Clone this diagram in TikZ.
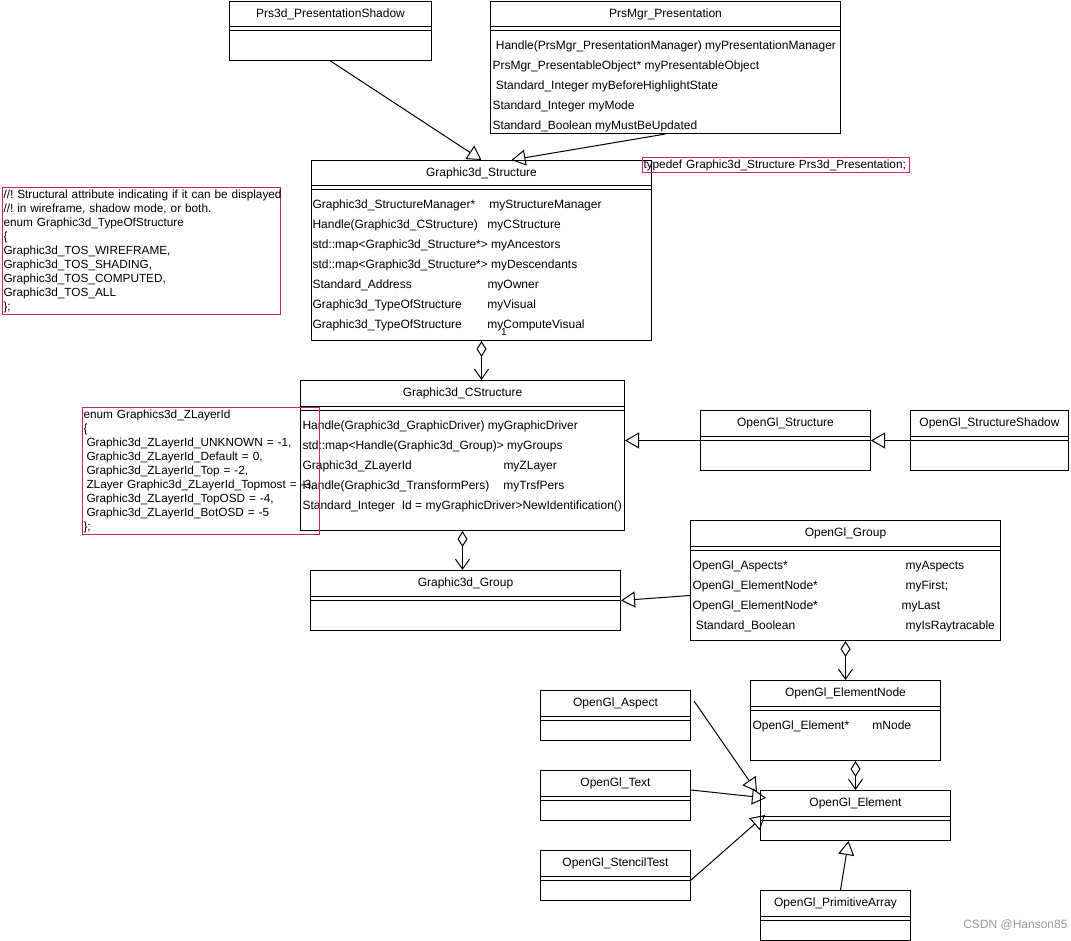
\documentclass[tikz,border=0pt]{standalone}
\usepackage{fontspec}
\setmainfont{Liberation Sans}
\usetikzlibrary{arrows.meta}
\definecolor{notepink}{RGB}{196,32,120}

\begin{document}
\frenchspacing
\begin{tikzpicture}[x=1pt, y=-1pt, line width=1pt, font=\fontsize{12}{14}\selectfont]
    % Define styles
    \tikzstyle{umlclass} = [rectangle, draw, anchor=north west, inner sep=0pt]
    \tikzstyle{classtitle} = [inner sep=0pt]
    \tikzstyle{classbody} = [anchor=north west, inner sep=0pt, font=\fontsize{12}{20}\selectfont]
    \tikzstyle{note} = [rectangle, draw=notepink, anchor=north west, inner xsep=1pt, inner ysep=2pt, align=left, font=\fontsize{11.8}{14}\selectfont]
    \tikzstyle{inherit} = [-{Triangle[open,length=14pt,width=16pt]}]
    \tikzstyle{aggr} = [{Diamond[open,length=16pt,width=10pt]}-{Straight Barb[length=10pt,width=14pt]}]

    \useasboundingbox (0,0) rectangle (1071,941);

    % Classes
    \node[umlclass, minimum width=202pt, minimum height=59pt] (ps) at (229,1) {};
    \node[umlclass, minimum width=350pt, minimum height=132pt] (pm) at (490,1) {};
    \node[umlclass, minimum width=340pt, minimum height=180pt] (gs) at (311,160) {};
    \node[umlclass, minimum width=324pt, minimum height=150pt] (gcs) at (300,380) {};
    \node[umlclass, minimum width=170pt, minimum height=60pt] (ogs) at (700,410) {};
    \node[umlclass, minimum width=158pt, minimum height=60pt] (ogss) at (910,410) {};
    \node[umlclass, minimum width=310pt, minimum height=60pt] (gg) at (310,570) {};
    \node[umlclass, minimum width=310pt, minimum height=120pt] (ogg) at (690,520) {};
    \node[umlclass, minimum width=190pt, minimum height=80pt] (oen) at (750,680) {};
    \node[umlclass, minimum width=150pt, minimum height=50pt] (oa) at (540,690) {};
    \node[umlclass, minimum width=150pt, minimum height=50pt] (ot) at (540,770) {};
    \node[umlclass, minimum width=150pt, minimum height=50pt] (ost) at (540,850) {};
    \node[umlclass, minimum width=190pt, minimum height=50pt] (oe) at (760,790) {};
    \node[umlclass, minimum width=150pt, minimum height=50pt] (opa) at (760,890) {};

    \foreach \c in {ps,pm,gs,gcs,ogs,ogss,gg,ogg,oen,oa,ot,ost,oe,opa}
        \draw ([yshift=-26pt]\c.north west) -- ([yshift=-26pt]\c.north east)
              ([yshift=-30pt]\c.north west) -- ([yshift=-30pt]\c.north east);

    % Titles
    \node[classtitle] (ps-t) at ([yshift=-13.5pt]ps.north) {Prs3d\_PresentationShadow};
    \node[classtitle] (pm-t) at ([yshift=-13.5pt]pm.north) {PrsMgr\_Presentation};
    \node[classtitle] (gs-t) at ([yshift=-13.5pt]gs.north) {Graphic3d\_Structure};
    \node[classtitle] (gcs-t) at ([yshift=-13.5pt]gcs.north) {Graphic3d\_CStructure};
    \node[classtitle] (ogs-t) at ([yshift=-13.5pt]ogs.north) {OpenGl\_Structure};
    \node[classtitle] (ogss-t) at ([yshift=-13.5pt]ogss.north) {OpenGl\_StructureShadow};
    \node[classtitle] (gg-t) at ([yshift=-13.5pt]gg.north) {Graphic3d\_Group};
    \node[classtitle] (ogg-t) at ([yshift=-13.5pt]ogg.north) {OpenGl\_Group};
    \node[classtitle] (oen-t) at ([yshift=-13.5pt]oen.north) {OpenGl\_ElementNode};
    \node[classtitle] (oa-t) at ([yshift=-13.5pt]oa.north) {OpenGl\_Aspect};
    \node[classtitle] (ot-t) at ([yshift=-13.5pt]ot.north) {OpenGl\_Text};
    \node[classtitle] (ost-t) at ([yshift=-13.5pt]ost.north) {OpenGl\_StencilTest};
    \node[classtitle] (oe-t) at ([yshift=-13.5pt]oe.north) {OpenGl\_Element};
    \node[classtitle] (opa-t) at ([yshift=-13.5pt]opa.north) {OpenGl\_PrimitiveArray};

    % Attributes
    \node[classbody] (pm-b) at ([xshift=2pt,yshift=-34.5pt]pm.north west) {\begin{tabular}{@{}l@{}}
        \ Handle(PrsMgr\_PresentationManager) myPresentationManager\\
        PrsMgr\_PresentableObject* myPresentableObject\\
        \ Standard\_Integer myBeforeHighlightState\\
        Standard\_Integer myMode\\
        Standard\_Boolean myMustBeUpdated
    \end{tabular}};
    \node[classbody] (gs-b) at ([xshift=1pt,yshift=-34.5pt]gs.north west) {\begin{tabular}{@{}l@{}}
        \makebox[177pt][l]{Graphic3d\_StructureManager*}myStructureManager\\
        \makebox[175pt][l]{Handle(Graphic3d\_CStructure)}myCStructure\\
        std::map<Graphic3d\_Structure*> myAncestors\\
        std::map<Graphic3d\_Structure*> myDescendants\\
        \makebox[175pt][l]{Standard\_Address}myOwner\\
        \makebox[175pt][l]{Graphic3d\_TypeOfStructure}myVisual\\
        \makebox[175pt][l]{Graphic3d\_TypeOfStructure}myComputeVisual
    \end{tabular}};
    \node[inner sep=0pt, font=\fontsize{10}{12}\selectfont] (gs-mult) at (504,332) {1};
    \node[classbody] (gcs-b) at ([xshift=2pt,yshift=-34.5pt]gcs.north west) {\begin{tabular}{@{}l@{}}
        Handle(Graphic3d\_GraphicDriver) myGraphicDriver\\
        std::map<Handle(Graphic3d\_Group)> myGroups\\
        \makebox[201pt][l]{Graphic3d\_ZLayerId}myZLayer\\
        \makebox[201pt][l]{Handle(Graphic3d\_TransformPers)}myTrsfPers\\
        Standard\_Integer\ \ Id = myGraphicDriver>NewIdentification()
    \end{tabular}};
    \node[classbody] (ogg-b) at ([xshift=2pt,yshift=-34.5pt]ogg.north west) {\begin{tabular}{@{}l@{}}
        \makebox[213pt][l]{OpenGl\_Aspects*}myAspects\\
        \makebox[213pt][l]{OpenGl\_ElementNode*}myFirst;\\
        \makebox[209pt][l]{OpenGl\_ElementNode*}myLast\\
        \makebox[213pt][l]{\ Standard\_Boolean}myIsRaytracable
    \end{tabular}};
    \node[classbody] (oen-b) at ([xshift=2pt,yshift=-34.5pt]oen.north west) {\begin{tabular}{@{}l@{}}
        \makebox[120pt][l]{OpenGl\_Element*}mNode
    \end{tabular}};

    % Notes
    \node[note, text width=265pt, inner ysep=0pt, minimum height=15pt] (typedef-note) at (642,157)
        {\mbox{typedef Graphic3d\_Structure Prs3d\_Presentation;}};
    \node[note, text width=276pt, minimum height=127pt] (tos-note) at (2,187)
        {\mbox{//! Structural attribute indicating if it can be displayed}\\
         //! in wireframe, shadow mode, or both.\\
         enum Graphic3d\_TypeOfStructure\\
         \{\\
         Graphic3d\_TOS\_WIREFRAME,\\
         Graphic3d\_TOS\_SHADING,\\
         Graphic3d\_TOS\_COMPUTED,\\
         Graphic3d\_TOS\_ALL\\
         \};};
    \node[note, text width=235pt, minimum height=127pt] (zlayer-note) at (82,407)
        {enum Graphics3d\_ZLayerId\\
         \{\\
         \hspace*{3pt}Graphic3d\_ZLayerId\_UNKNOWN = -1,\\
         \hspace*{3pt}Graphic3d\_ZLayerId\_Default = 0,\\
         \hspace*{3pt}Graphic3d\_ZLayerId\_Top = -2,\\
         \mbox{\hspace*{3pt}ZLayer Graphic3d\_ZLayerId\_Topmost = -3,}\\
         \hspace*{3pt}Graphic3d\_ZLayerId\_TopOSD = -4,\\
         \hspace*{3pt}Graphic3d\_ZLayerId\_BotOSD = -5\\
         \};};

    % Arrows
    \draw [inherit] (ps.south) -- (gs.north);
    \draw [inherit] (pm.south) -- ([xshift=30pt]gs.north);
    \draw [aggr] (gs.south) -- (gs.south |- gcs.north);
    \draw [aggr] (gcs.south) -- (gcs.south |- gg.north);
    \draw [inherit] (ogs.west) -- (ogs.west -| gcs.east);
    \draw [inherit] (ogss.west) -- (ogs.east);
    \draw [inherit] ([yshift=-15pt]ogg.west) -- (gg.east);
    \draw [aggr] (ogg.south) -- (ogg.south |- oen.north);
    \draw [aggr] (oe.north |- oen.south) -- (oe.north);
    \draw [inherit] ([xshift=3pt,yshift=-11pt]oa.north east) -- ([xshift=-3pt,yshift=-2pt]oe.north west);
    \draw [inherit] ([yshift=-20pt]ot.north east) -- ([xshift=6pt,yshift=-8pt]oe.north west);
    \draw [inherit] ([yshift=-30pt]ost.north east) -- ([xshift=5pt,yshift=-25pt]oe.north west);
    \draw [inherit] ([xshift=5pt]opa.north) -- ([xshift=-7pt]oe.south);

    \node[text=gray!80, anchor=east, inner sep=0pt] (watermark) at (1068,925) {CSDN @Hanson85};
\end{tikzpicture}
\end{document}
